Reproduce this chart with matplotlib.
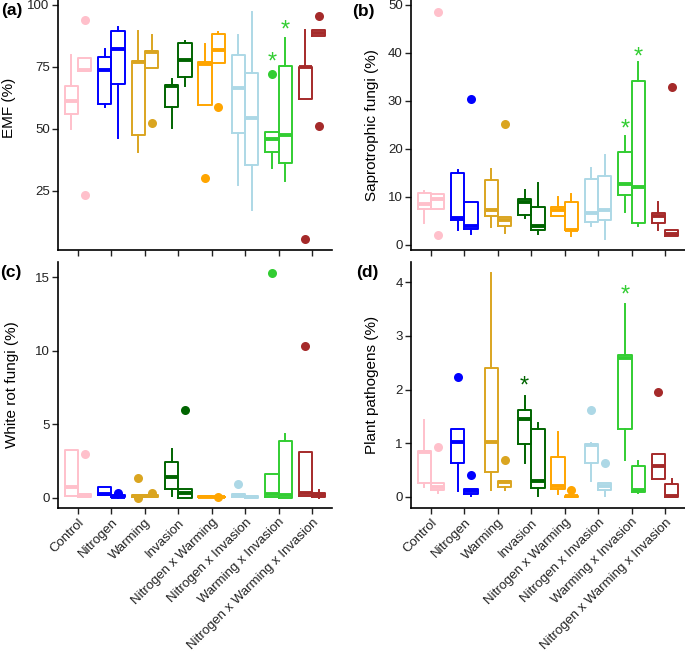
import matplotlib
matplotlib.use('Agg')
import matplotlib.pyplot as plt

plt.rcParams['font.family'] = ['Liberation Sans', 'DejaVu Sans']

treatments = ['Control', 'Nitrogen', 'Warming', 'Invasion', 'Nitrogen x Warming',
              'Nitrogen x Invasion', 'Warming x Invasion', 'Nitrogen x Warming x Invasion']
colors = ['pink', 'blue', 'goldenrod', 'darkgreen', 'orange', 'lightblue', 'limegreen', 'brown']

# box stats per treatment: (whisker low, q1, median, q3, whisker high)
# left box and right box of each treatment
emf_left = [(50.0, 55.8, 61.2, 67.3, 79.7), (58.8, 59.9, 73.8, 79.1, 82.4),
            (40.7, 47.3, 77.0, 77.4, 89.3), (50.4, 58.9, 67.3, 67.8, 70.0),
            (59.6, 59.6, 76.0, 76.8, 84.2), (27.2, 48.4, 66.4, 79.7, 87.8),
            (34.2, 40.7, 45.7, 48.6, 48.6), (62.2, 62.2, 74.8, 75.1, 89.7)]
emf_right = [(73.4, 73.4, 73.6, 78.6, 78.6), (46.1, 68.2, 82.4, 89.3, 91.1),
             (74.5, 74.5, 80.8, 81.2, 87.8), (67.3, 70.8, 77.8, 84.6, 85.4),
             (76.4, 76.4, 81.8, 88.2, 88.9), (17.3, 35.5, 54.5, 72.4, 97.3),
             (28.8, 36.2, 47.4, 75.4, 86.6), (87.6, 87.6, 88.8, 89.9, 89.9)]
# outliers: (treatment index, side 0=left 1=right, value)
emf_out = [(0, 1, 94.1), (0, 1, 23.4), (2, 1, 52.4), (4, 0, 30.1), (4, 1, 58.8),
           (6, 0, 72.0), (7, 0, 5.5), (7, 1, 95.4), (7, 1, 51.1)]
emf_stars = [(6, 0, 76.9), (6, 1, 89.6)]

sap_left = [(4.5, 7.5, 8.5, 10.8, 11.25), (3.1, 5.2, 5.6, 14.9, 15.5),
            (3.6, 6.0, 7.3, 13.4, 15.8), (5.6, 6.1, 9.0, 9.5, 11.3),
            (5.9, 5.9, 7.2, 7.8, 9.9), (3.8, 4.7, 6.6, 13.7, 16.0),
            (6.8, 10.4, 12.7, 19.4, 22.7), (3.1, 4.5, 5.9, 6.7, 8.9)]
sap_right = [(7.5, 7.5, 9.6, 10.6, 10.6), (2.2, 3.3, 3.8, 8.8, 8.8),
             (2.4, 4.0, 5.2, 5.7, 5.7), (2.2, 3.1, 3.8, 7.8, 12.8),
             (1.9, 3.0, 3.1, 9.0, 10.6), (1.25, 5.1, 7.3, 14.4, 18.75),
             (4.0, 4.5, 12.0, 34.2, 38.0), (1.9, 1.9, 2.3, 3.1, 3.1)]
sap_out = [(0, 1, 48.4), (0, 1, 2.1), (1, 1, 30.3), (2, 1, 25.1), (7, 1, 32.8)]
sap_stars = [(6, 0, 24.0), (6, 1, 39.1)]

wrf_left = [(0.11, 0.11, 0.72, 3.24, 3.24), (0.2, 0.2, 0.25, 0.72, 0.72),
            (0.05, 0.05, 0.12, 0.2, 0.2), (0.11, 0.61, 1.4, 2.41, 3.3),
            (0.05, 0.05, 0.08, 0.12, 0.12), (0.04, 0.04, 0.2, 0.27, 0.27),
            (0.05, 0.05, 0.27, 1.62, 1.62), (0.09, 0.09, 0.34, 3.13, 3.13)]
wrf_right = [(0.03, 0.03, 0.15, 0.27, 0.27), (0.0, 0.02, 0.05, 0.18, 0.18),
             (0.02, 0.05, 0.1, 0.2, 0.2), (0.0, 0.0, 0.34, 0.56, 0.56),
             (0.0, 0.02, 0.05, 0.08, 0.08), (0.0, 0.0, 0.05, 0.1, 0.1),
             (0.0, 0.0, 0.16, 3.87, 4.32), (0.0, 0.05, 0.2, 0.35, 0.5)]
wrf_out = [(0, 1, 2.97), (1, 1, 0.35), (2, 0, 1.33), (2, 0, 0.0), (2, 1, 0.35),
           (3, 1, 6.0), (4, 1, 0.05), (5, 0, 0.95), (6, 0, 15.3), (7, 0, 10.35)]
wrf_stars = []

pp_left = [(0.18, 0.26, 0.83, 0.86, 1.43), (0.1, 0.63, 1.03, 1.26, 1.26),
           (0.12, 0.46, 1.03, 2.40, 4.17), (0.63, 0.98, 1.45, 1.62, 1.88),
           (0.06, 0.15, 0.2, 0.75, 1.2), (0.29, 0.63, 0.96, 0.98, 1.0),
           (0.69, 1.26, 2.59, 2.65, 3.6), (0.34, 0.34, 0.57, 0.80, 0.80)]
pp_right = [(0.07, 0.12, 0.18, 0.26, 0.26), (0.01, 0.06, 0.1, 0.14, 0.14),
            (0.12, 0.18, 0.28, 0.30, 0.30), (0.01, 0.17, 0.29, 1.26, 1.37),
            (0.0, 0.0, 0.01, 0.02, 0.02), (0.01, 0.12, 0.2, 0.26, 0.26),
            (0.07, 0.09, 0.12, 0.58, 0.67), (0.0, 0.0, 0.02, 0.23, 0.33)]
pp_out = [(0, 1, 0.92), (1, 0, 2.23), (1, 1, 0.40), (2, 1, 0.69), (4, 1, 0.12),
          (5, 0, 1.62), (5, 1, 0.63), (7, 0, 1.95)]
pp_stars = [(3, 0, 2.05), (6, 0, 3.76)]

W, H = 685, 657
fig = plt.figure(figsize=(W / 100, H / 100), dpi=100)


def panel(rect, left, right, outliers, stars, ylim, yticks, ylabel, label_y, letter, letter_xy, xlabels):
    x0, top, x1, bottom = rect
    ax = fig.add_axes([x0 / W, 1 - bottom / H, (x1 - x0) / W, (bottom - top) / H])
    stats, pos, cols = [], [], []
    for i in range(len(treatments)):
        for side, data in ((0, left), (1, right)):
            lo, q1, med, q3, hi = data[i]
            fl = [v for (t, s, v) in outliers if t == i and s == side]
            stats.append(dict(whislo=lo, q1=q1, med=med, q3=q3, whishi=hi, fliers=fl))
            pos.append(i + 1 + (0.2 if side else -0.2))
            cols.append(colors[i])
    art = ax.bxp(stats, positions=pos, widths=0.4, showcaps=False,
                 boxprops=dict(linewidth=1.4),
                 medianprops=dict(linewidth=2.8, solid_capstyle='butt'),
                 whiskerprops=dict(linewidth=1.4),
                 flierprops=dict(marker='o', markersize=6.5, markeredgewidth=0))
    for k, c in enumerate(cols):
        art['boxes'][k].set_color(c)
        art['medians'][k].set_color(c)
        art['whiskers'][2 * k].set_color(c)
        art['whiskers'][2 * k + 1].set_color(c)
        art['fliers'][k].set_markerfacecolor(c)
    for t, s, v in stars:
        ax.text(t + 1 + (0.2 if s else -0.2), v, '*', color=colors[t], fontsize=17,
                ha='center', va='center')
    ax.set_xlim(0.4, 8.6)
    ax.set_ylim(*ylim)
    ax.set_yticks(yticks)
    ax.set_xticks(range(1, 9))
    if xlabels:
        ax.set_xticklabels(treatments, rotation=45, ha='right', va='top',
                           rotation_mode='anchor')
    else:
        ax.set_xticklabels([])
    for sp in ['top', 'right']:
        ax.spines[sp].set_visible(False)
    for sp in ['left', 'bottom']:
        ax.spines[sp].set_linewidth(1.2)
    ax.tick_params(direction='out', length=4, width=1, labelsize=9.5, pad=2, colors='#222222')
    ax.set_ylabel(ylabel, fontsize=11, va='center')
    ax.yaxis.set_label_coords(label_y[0], label_y[1])
    fig.text(letter_xy[0] / W, 1 - letter_xy[1] / H, letter, fontsize=12.5,
             fontweight='bold', ha='left', va='top')
    return ax


panel((58, 0, 332, 250), emf_left, emf_right, emf_out, emf_stars, (1, 102),
      [25, 50, 75, 100], 'EMF (%)', (-0.178, 0.57), '(a)', (1, 3), False)
panel((411, 0, 685, 250), sap_left, sap_right, sap_out, sap_stars, (-1.1, 51),
      [0, 10, 20, 30, 40, 50], 'Saprotrophic fungi (%)', (-0.142, 0.5), '(b)', (352, 4), False)
panel((58, 262, 332, 508), wrf_left, wrf_right, wrf_out, wrf_stars, (-0.7, 16.05),
      [0, 5, 10, 15], 'White rot fungi (%)', (-0.168, 0.5), '(c)', (0, 265), True)
panel((411, 262, 685, 508), pp_left, pp_right, pp_out, pp_stars, (-0.21, 4.38),
      [0, 1, 2, 3, 4], 'Plant pathogens (%)', (-0.142, 0.5), '(d)', (356, 265), True)

fig.savefig('out.png', dpi=100)
